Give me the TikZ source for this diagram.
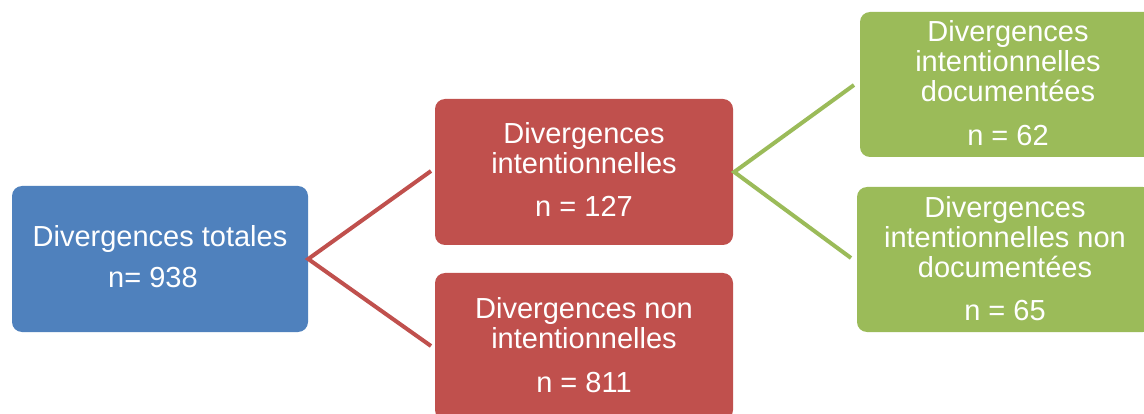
\documentclass[tikz,border=0pt]{standalone}
\usepackage{fontspec}
\setmainfont{Liberation Sans}
\definecolor{cblue}{HTML}{4F81BD}
\definecolor{cred}{HTML}{C0504D}
\definecolor{cgreen}{HTML}{9BBB59}
\tikzset{
  boxnode/.style={draw=none, rounded corners=10pt, inner sep=0pt, minimum width=296pt, minimum height=146pt},
  txt/.style={text=white, font=\fontsize{29}{30}\selectfont, align=center, anchor=base, inner sep=0pt},
  conn/.style={line width=4pt, line join=miter},
}
\begin{document}
\begin{tikzpicture}[x=1pt,y=-1pt]
\useasboundingbox (0,0) rectangle (1144,414);
\fill[white] (0,0) rectangle (1144,414);
% boxes
\node[boxnode, fill=cblue] (total) at (160,259) {};
\node[boxnode, fill=cred, minimum width=298pt] (inten) at (584,172) {};
\node[boxnode, fill=cred, minimum width=298pt, minimum height=147pt] (nonint) at (584,346.5) {};
\node[boxnode, fill=cgreen, minimum height=145pt] (doc) at (1008,84.5) {};
\node[boxnode, fill=cgreen, minimum height=145pt] (ndoc) at (1005,259.5) {};
% texts
\node[txt] (ttotal) at (160,288) {Divergences totales\\[11pt]n= 938\hspace*{14pt}};
\node[txt] (tint) at (584,217) {Divergences\\intentionnelles\\[13pt]n = 127};
\node[txt] (tnon) at (584,392) {Divergences non\\intentionnelles\\[14pt]n = 811};
\node[txt] (tdoc) at (1008,146) {Divergences\\intentionnelles\\documentées\\[14pt]n = 62};
\node[txt] (tndoc) at (1005,320) {Divergences\\intentionnelles non\\documentées\\[13pt]n = 65};
% connectors
\coordinate (r1) at (431,171);
\coordinate (r2) at (431,346);
\coordinate (g1) at (854,85);
\coordinate (g2) at (851,258);
\draw[conn, cred] (r1) -- (total.east) -- (r2);
\draw[conn, cgreen] (g1) -- ([xshift=1pt]inten.east) -- (g2);
\end{tikzpicture}
\end{document}
